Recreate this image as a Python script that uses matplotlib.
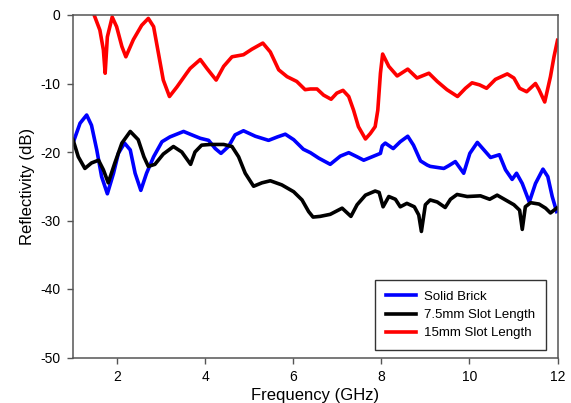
import matplotlib
matplotlib.use("Agg")
import matplotlib.pyplot as plt

plt.rcParams['font.family'] = ['Liberation Sans', 'DejaVu Sans']
plt.rcParams['axes.unicode_minus'] = False

# Solid brick (frequency GHz, reflectivity dB)
brick_f = [1.0, 1.16, 1.31, 1.42, 1.54, 1.65, 1.78, 1.92, 2.03, 2.17, 2.30, 2.41, 2.54,
           2.67, 2.83, 3.02, 3.20, 3.51, 3.66, 3.89, 4.08, 4.23, 4.36, 4.53, 4.68, 4.87,
           5.14, 5.44, 5.64, 5.82, 6.01, 6.23, 6.39, 6.58, 6.84, 7.07, 7.26, 7.45, 7.60,
           7.79, 7.98, 8.02, 8.09, 8.27, 8.43, 8.60, 8.73, 8.89, 9.04, 9.11, 9.42, 9.53,
           9.68, 9.87, 10.01, 10.18, 10.33, 10.48, 10.68, 10.82, 10.97, 11.07, 11.20,
           11.36, 11.50, 11.67, 11.78, 11.88, 11.98]
brick_db = [-18.7, -15.8, -14.6, -16.1, -19.7, -23.6, -26.1, -23.1, -20.2, -18.7, -19.7,
            -23.1, -25.6, -23.1, -20.7, -18.5, -17.8, -17.0, -17.4, -18.0, -18.3, -19.5,
            -20.2, -19.2, -17.5, -16.9, -17.7, -18.3, -17.8, -17.4, -18.2, -19.6, -20.1,
            -20.9, -21.8, -20.6, -20.1, -20.7, -21.2, -20.7, -20.2, -19.1, -18.7, -19.5,
            -18.5, -17.7, -19.0, -21.3, -21.9, -22.1, -22.4, -22.0, -21.4, -23.1, -20.2,
            -18.6, -19.7, -20.8, -20.4, -22.6, -24.0, -23.1, -24.6, -27.3, -24.6, -22.5,
            -23.6, -26.5, -28.7]

# 7.5mm slot length
slot75_f = [1.0, 1.12, 1.27, 1.42, 1.58, 1.69, 1.80, 1.95, 2.11, 2.30, 2.48, 2.61, 2.71,
            2.86, 3.05, 3.28, 3.47, 3.67, 3.77, 3.92, 4.11, 4.42, 4.61, 4.76, 4.91, 5.10,
            5.29, 5.48, 5.74, 6.01, 6.20, 6.35, 6.45, 6.61, 6.84, 7.11, 7.31, 7.45, 7.64,
            7.86, 7.95, 8.04, 8.17, 8.32, 8.43, 8.58, 8.75, 8.85, 8.91, 9.0, 9.11, 9.27,
            9.45, 9.57, 9.72, 9.95, 10.25, 10.46, 10.63, 10.82, 11.01, 11.14, 11.20, 11.27,
            11.39, 11.58, 11.73, 11.84, 11.98]
slot75_db = [-18.2, -20.7, -22.4, -21.6, -21.2, -22.6, -24.5, -21.6, -18.7, -17.0, -18.2,
             -20.7, -22.1, -21.8, -20.3, -19.2, -20.0, -21.8, -20.0, -19.0, -18.9, -18.9,
             -19.2, -20.7, -23.1, -25.0, -24.5, -24.2, -24.8, -25.8, -27.0, -28.7, -29.5,
             -29.4, -29.1, -28.2, -29.4, -27.7, -26.3, -25.7, -25.9, -28.0, -26.5, -26.9,
             -28.0, -27.5, -28.0, -29.2, -31.6, -27.7, -27.0, -27.3, -28.1, -26.9, -26.2,
             -26.5, -26.4, -26.9, -26.3, -27.0, -27.7, -28.5, -31.3, -28.0, -27.4, -27.6,
             -28.2, -28.9, -28.2]

# 15mm slot length
slot15_f = [1.40, 1.48, 1.61, 1.69, 1.73, 1.78, 1.89, 1.99, 2.11, 2.20, 2.37, 2.56, 2.71,
            2.83, 2.94, 3.05, 3.19, 3.36, 3.58, 3.66, 3.89, 4.04, 4.25, 4.42, 4.61, 4.87,
            5.06, 5.31, 5.48, 5.67, 5.86, 6.08, 6.27, 6.39, 6.54, 6.69, 6.86, 6.99, 7.13,
            7.26, 7.37, 7.48, 7.64, 7.75, 7.86, 7.92, 7.98, 8.03, 8.17, 8.36, 8.60, 8.81,
            9.08, 9.27, 9.49, 9.73, 9.91, 10.06, 10.23, 10.39, 10.59, 10.86, 11.01, 11.14,
            11.30, 11.50, 11.58, 11.71, 11.84, 11.92, 12.0]
slot15_db = [1.5, 0.0, -2.2, -5.1, -8.5, -3.2, -0.3, -1.7, -4.6, -6.1, -3.6, -1.5, -0.5,
             -1.7, -5.6, -9.5, -11.9, -10.5, -8.5, -7.8, -6.5, -7.8, -9.5, -7.5, -6.1, -5.8,
             -5.0, -4.1, -5.4, -8.0, -9.0, -9.7, -10.9, -10.8, -10.8, -11.7, -12.3, -11.4,
             -11.0, -11.9, -13.9, -16.3, -18.1, -17.3, -16.3, -13.9, -8.5, -5.7, -7.5, -8.9,
             -7.9, -9.2, -8.5, -9.7, -10.9, -11.9, -10.7, -9.9, -10.2, -10.7, -9.4, -8.6,
             -9.2, -10.7, -11.2, -10.0, -10.9, -12.7, -9.0, -6.1, -3.7]

fig = plt.figure(figsize=(5.71, 4.03), dpi=100)
ax = fig.add_axes([73/571, 1 - 357.5/403, 484.5/571, 342.5/403])

ax.plot(brick_f, brick_db, color='#0000ff', lw=2.6, label="Solid Brick")
ax.plot(slot75_f, slot75_db, color='black', lw=2.6, label="7.5mm Slot Length")
ax.plot(slot15_f, slot15_db, color='#ff0000', lw=2.6, label="15mm Slot Length")

ax.set_xlim(1, 12)
ax.set_ylim(-50, 0)
ax.set_xticks([2, 4, 6, 8, 10, 12])
ax.set_yticks([-50, -40, -30, -20, -10, 0])
ax.tick_params(direction='out', length=4, width=1, labelsize=10, color='#555555', pad=5)
for s in ax.spines.values():
    s.set_color('#555555')
    s.set_linewidth(1.1)

ax.set_xlabel("Frequency (GHz)", fontsize=12, labelpad=3)
ax.set_ylabel("Reflectivity (dB)", fontsize=12, labelpad=4)

leg = ax.legend(loc='lower right', bbox_to_anchor=(0.976, 0.022), fontsize=9.5,
                frameon=True, fancybox=False, handlelength=2.3, handletextpad=0.6,
                labelspacing=0.45, borderpad=0.8, borderaxespad=0.0)
leg.get_frame().set_edgecolor('black')
leg.get_frame().set_linewidth(1.0)

fig.savefig("out.png", dpi=100)
